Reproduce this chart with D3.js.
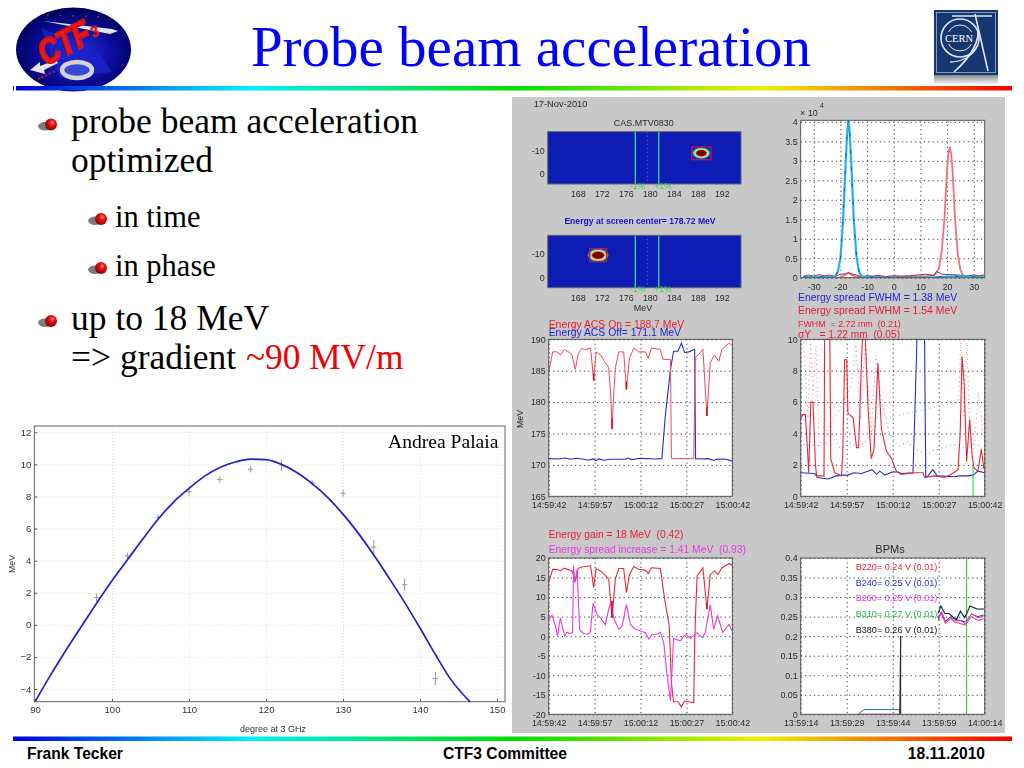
<!DOCTYPE html>
<html><head><meta charset="utf-8">
<script src="https://cdn.jsdelivr.net/npm/d3@7/dist/d3.min.js"></script>
<style>
html,body{margin:0;padding:0;background:#fff;overflow:hidden}
svg{display:block}
text{white-space:pre}
.sans{font-family:"Liberation Sans",Arial,sans-serif}
.serif{font-family:"Liberation Serif","Times New Roman",serif}
.tick text{font-family:"Liberation Sans",Arial,sans-serif}
</style></head><body><svg id="s" width="1024" height="768"></svg>
<script>
// ---------- phase scan (bottom left)
const scanPoints=[[98,1.7,.26],[102,4.3,.2],[106,6.7,.2],[110,8.3,.24],[114,9.05,.2],[118,9.7,.2],[122,9.95,.35],[126,8.85,.2],[130,8.2,.22],[134,4.85,.42],[138,2.5,.38],[142,-3.35,.4]];
const scanFit=[[90,-4.8],[92,-3.15],[94,-1.6],[96,-.12],[98,1.35],[100,2.75],[102,4.05],[104,5.35],[106,6.6],[108,7.65],[110,8.5],[112,9.25],[114,9.8],[116,10.15],[118,10.33],[120,10.3],[122,10],[124,9.5],[126,8.8],[128,7.95],[130,6.9],[132,5.7],[134,4.35],[136,2.9],[138,1.4],[140,-.2],[142,-1.85],[144,-3.4],[146.5,-4.8]];
const scanXTicks=[90,100,110,120,130,140,150];
const scanYTicks=[-4,-2,0,2,4,6,8,10,12];
// ---------- screens
const mevTicks=[168,172,176,180,184,188,192];
const screenYTicks=[-10,0];
const spotRings=[{rx:1.5,ry:2.45,c:"#1c8ae8"},{rx:1.35,ry:2.15,c:"#35e0c8"},{rx:1.18,ry:1.85,c:"#ecec70"},{rx:1.0,ry:1.55,c:"#f09020"},{rx:.86,ry:1.3,c:"#7a0606"}];
const spotA={e:188.6,y:-8.8,box:[187,190.2,-11.4,-6],scale:1};
const spotB={e:171.4,y:-9.4,box:[170,172.8,-12.2,-6.7],scale:1.15};
const markerEnergies=[177.6,181.5];
const markerLabels=[178,182.2];
const centerEnergy=179.6;
// ---------- energy spread profile
const profXTicks=[-30,-20,-10,0,10,20,30];
const profYTicks=[0,.5,1,1.5,2,2.5,3,3.5,4];
const profYLabels=["0","0.5","1","1.5","2","2.5","3","3.5","4"];
const profCyan=[[-34,.02],[-25,.02],[-22,.03],[-21,.15],[-20,.5],[-19,1.5],[-18,3],[-17.5,3.7],[-17,4.06],[-16.5,3.7],[-16,3],[-15,1.5],[-14,.55],[-13,.15],[-12,.03],[-5,.01],[5,.0],[15,.01],[20,.03],[25,.04],[34,.01]];
const profRed=[[-34,.0],[-20,.01],[-18,.08],[-17,.12],[-16,.08],[-14,.02],[0,.02],[12,.04],[15,.06],[16,.12],[17,.25],[18,.7],[19,1.5],[20,2.8],[20.5,3.2],[21,3.35],[21.5,3.2],[22,2.8],[23,1.5],[24,.6],[25,.2],[26,.05],[34,.02]];
const profNoise=[[-34,.03],[-32,.07],[-30,.04],[-28,.08],[-26,.05],[-24,.07],[-22,.03],[-20,.09],[-18,.1],[-17,.14],[-16,.1],[-14,.07],[-12,.02],[-10,.05],[-8,.04],[-6,.06],[-3,.03],[0,.05],[3,.04],[6,.05],[9,.07],[12,.09],[15,.06],[16,.16],[18,.09],[21,.08],[24,.07],[26,.06],[28,.04],[30,.07],[32,.05],[34,.07]];
// ---------- time traces
const timeTicks=[0,15,30,45,60];
const timeLabels=["14:59:42","14:59:57","15:00:12","15:00:27","15:00:42"];
const bpmTimeLabels=["13:59:14","13:59:29","13:59:44","13:59:59","14:00:14"];
const acsOn=[[0,184.7],[.5,186],[1.3,188],[2.7,188],[3.8,187.5],[5.1,188.4],[6.5,188],[7.6,187.6],[8.7,185.2],[9.6,187.6],[10.7,188.5],[12.2,188.4],[13.7,188.6],[14.7,183.4],[15.5,188],[16.9,187.5],[18.5,186.3],[19.6,185.5],[20.3,181],[20.7,175.7],[21.2,181],[21.8,185.5],[22.9,188],[24.5,188],[25.4,182],[26.4,187],[27.8,188.6],[29.4,188],[31.6,188],[32.5,187],[33.6,188.6],[36.5,188.4],[37.3,186.8],[39.8,186.8],[40.1,171],[47.4,171],[47.9,187],[50.4,188.4],[51.7,177.8],[52.8,186.3],[54.2,187.5],[55.6,186.5],[56.6,188.4],[59,189.4],[60,189]];
const acsOnTips=[[[14.7,183.4],[14.7,184.6]],[[20.7,175.7],[20.7,177.4]],[[25.4,182],[25.4,183.3]],[[51.7,177.8],[51.7,179.2]]];
const acsOff=[[0,171],[3,170.95],[5.5,171.1],[7,170.9],[9,171.05],[12,170.85],[13,170.75],[14.5,170.95],[15.5,170.7],[16.5,170.95],[18,170.75],[20,170.9],[25,170.9],[26,171.1],[27,170.85],[30,171.05],[35,170.95],[37,171],[38.1,177.8],[39.8,185.2],[40.8,188.1],[42.2,188.1],[43.4,189.4],[44.4,187.9],[45.8,188],[47.7,188.4],[48,171],[50,170.95],[52,171],[54,170.7],[55,170.95],[58,170.9],[60,170.6]];
const gain=[[0,13.7],[.5,15],[1.3,17.1],[2.7,17.1],[3.8,16.7],[5.1,17.4],[7.6,16.7],[8.2,15.4],[8.7,14],[9.6,17.3],[10.7,17.7],[13.7,18],[14.7,12.4],[15.5,17.3],[16.9,16.7],[19.6,14.7],[20.7,4.7],[21.8,14.7],[22.9,17.3],[24.5,17.3],[25.4,11.1],[26.4,15.8],[27.8,17.8],[29.4,17.1],[31.6,16.9],[32.5,16],[33.6,17.5],[36.5,17.3],[37.9,9.4],[39.4,2.6],[40.1,-11.9],[40.8,-16.8],[42.2,-16.8],[43.4,-18.1],[44.4,-16.6],[45.8,-16.8],[47.4,-17],[47.7,-1.7],[48.1,7.7],[48.5,15.4],[50.4,17.5],[51.7,6.9],[52.8,15.8],[54.2,16.7],[55.3,15.8],[56.6,17.5],[59,18.6],[60,18.1]];
const gainTips=[[[20.7,4.7],[20.7,9]],[[51.7,6.9],[51.7,8.4]]];
const spreadInc=[[0,4.3],[1.1,5.3],[2.2,2.6],[2.9,0],[3.8,4.7],[5.2,0],[6,1],[6.8,.7],[7.8,.9],[8.1,18],[8.5,13.7],[9.3,17],[10.1,1.6],[11.4,.7],[12.5,.5],[13.6,.9],[14.5,8.4],[15.8,5.6],[16.9,4.7],[18.5,2.9],[19.6,6.9],[20.5,9],[21.2,4.7],[22.9,1.7],[24,2.6],[25.4,8.1],[26.7,3],[28.1,1.9],[30,1.3],[31.6,.9],[32.7,-.8],[33.8,.5],[35.4,.5],[36.5,1],[37.6,-1.7],[38.7,-10.2],[39.8,-16.6],[40.8,-.6],[43,-1.2],[44.7,.5],[46.3,-.6],[48.5,.9],[50.3,-.4],[51.2,1],[52.8,8.1],[53.9,1.7],[55.2,5.2],[56.9,.9],[58.9,3],[60,1.3]];
const fwhmRed=[[0,5],[.8,5.2],[1.5,5.2],[2.2,3],[2.6,1.5],[3.3,6],[4,6],[4.8,2],[5.2,1.3],[7.6,1.3],[7.8,10],[9.5,10],[9.8,2.4],[11.1,1.5],[13.3,1.3],[13.7,2.6],[14.3,8.7],[15,8.7],[15.4,5.3],[17.1,5],[18.2,3.1],[18.9,3.1],[19.6,7.3],[20.1,10],[21.1,10],[22,5.5],[23,2.4],[23.9,3],[25.2,8.5],[26.3,4.3],[27.9,2.9],[29.6,2.4],[31.2,1.6],[32.8,1.4],[37.2,1.5],[39.9,1.5],[40.4,1.2],[43.7,1.3],[47,1.2],[49.1,1.4],[51.3,1.7],[52,4],[52.6,8.9],[53.3,7.2],[54.1,2.2],[55.1,4.9],[55.9,2.6],[56.5,1.8],[57.8,1.6],[58.9,3],[59.7,1.8],[60,1.7]];
const fwhmBlue=[[0,1.5],[4.6,1.45],[5.4,1.2],[8.9,1.1],[11.6,1.3],[13.8,1.35],[15.4,1.35],[17.4,1.5],[19.8,1.45],[23.3,1.7],[24.7,1.4],[25.8,1.6],[27.4,1.35],[29.8,1.55],[31.7,1.55],[32.8,1.45],[36.6,1.5],[37.2,5.1],[37.9,10],[40.4,10],[40.6,5],[40.8,1.2],[41.5,1.3],[43.1,1.7],[44.5,1.3],[50.3,1.25],[51.5,1.3],[54.6,1.3],[56.2,1.35],[57.8,1.6],[60,1.5]];
const fwhmRedDots=[[1,9.8],[2.4,5],[3.2,9.8],[4,6.5],[5,9.6],[6,3.2],[16.5,7],[18,9.8],[19.5,5],[21,9.6],[23,4],[24.5,9],[26,6.5],[28,5],[51.5,6],[52.2,9.8],[53.2,5],[54.2,9.8],[55.2,4],[56.5,3],[58,6.6],[59.5,4]];
const fwhmBlueDots=[[1,3.3],[6,3.2],[11,3.6],[13,3],[16,3.4],[18,3.2],[21,3.4],[24,4.5],[26.5,5.8],[29,4],[32,3.2],[35,3.5],[37,3],[41.5,2.7],[43,2.9],[45,3],[48,3.2],[51,3.3],[54,3],[57,3.4],[59,3.1]];
const fwhmGreen=[[56.2,0],[56.2,1.9]];
const voltTicks=[0,.05,.1,.15,.2,.25,.3,.35,.4];
const voltLabels=["0","0.05","0.1","0.15","0.2","0.25","0.3","0.35","0.4"];
const bpmTeal=[[18.7,0],[20.6,.012],[32.3,.012],[32.4,0]];
const bpmMagentaBase=[[18.7,0],[32.4,0]];
const bpmBlack=[[32.3,0],[32.4,.08],[32.6,.2],[32.6,0]];
const bpmBlackEnd=[[44.8,.258],[45.7,.277],[47,.258],[48.4,.258],[49.9,.247],[50.8,.243],[52.1,.264],[53.5,.247],[55.2,.277],[57.4,.27],[59.7,.269]];
const bpmMagenta=[[44.8,.239],[45.9,.264],[47.2,.235],[48.9,.247],[50.2,.239],[52.2,.239],[53.7,.232],[55.7,.258],[57.8,.247],[59.7,.252]];
const bpmRed=[[44.8,.243],[45.9,.258],[47.2,.232],[48.9,.244],[50.2,.236],[52.2,.232],[53.7,.228],[55.7,.25],[57.8,.24],[59.7,.244]];
const bpmBlue=[[44.8,.246],[45.9,.262],[47.2,.238],[48.9,.25],[50.2,.242],[52.2,.24],[53.7,.236],[55.7,.256],[57.8,.25],[59.7,.254]];
const bpmMarker=54.1;
const bpmLabels=[["B220= 0.24 V (0.01)","#e8243c"],["B240= 0.25 V (0.01)","#2b2bd8"],["B260= 0.25 V (0.01)","#e838e0"],["B310= 0.27 V (0.01)","#1cb83c"],["B380= 0.26 V (0.01)","#111"]];

const svg=d3.select("#s");
const defs=svg.append("defs");
const rb=defs.append("linearGradient").attr("id","rb");
[[0,"#0000d8"],[.235,"#00f0ff"],[.5,"#00dc00"],[.75,"#f0f000"],[1,"#f00000"]].forEach(d=>rb.append("stop").attr("offset",d[0]).attr("stop-color",d[1]));
const sph=defs.append("radialGradient").attr("id","sph").attr("cx",.6).attr("cy",.35).attr("r",.65);
[[0,"#ff9a8a"],[.35,"#f01010"],[1,"#8a0000"]].forEach(d=>sph.append("stop").attr("offset",d[0]).attr("stop-color",d[1]));
const lg=defs.append("radialGradient").attr("id","lg").attr("cx",.52).attr("cy",.55).attr("r",.55);
[[0,"#2a34e0"],[.6,"#0a0c9a"],[1,"#00005c"]].forEach(d=>lg.append("stop").attr("offset",d[0]).attr("stop-color",d[1]));
defs.append("filter").attr("id","soft").append("feGaussianBlur").attr("stdDeviation",.32);
const fd=defs.append("linearGradient").attr("id","fade").attr("x2",0).attr("y2",1);
[[0,"#8a8a8a"],[1,"#ffffff"]].forEach(d=>fd.append("stop").attr("offset",d[0]).attr("stop-color",d[1]));

function text(p,x,y,s,o={}){
  const t=p.append("text").attr("x",x).attr("y",y).text(s)
   .attr("class",o.cls||"sans").attr("font-size",o.size||9).attr("fill",o.fill||"#222");
  if(o.anchor)t.attr("text-anchor",o.anchor);
  if(o.weight)t.attr("font-weight",o.weight);
  if(o.rot)t.attr("transform",`rotate(${o.rot} ${x} ${y})`);
  return t;
}
// CTF3 logo
const lo=svg.append("g");
lo.append("ellipse").attr("cx",73.5).attr("cy",49.5).attr("rx",57.5).attr("ry",42).attr("fill","url(#lg)");
lo.append("path").attr("d","M41 28 L98 52 L112 72 L60 78 Z").attr("fill","#1a22c8").attr("opacity",.8);
lo.append("path").attr("d","M43 21 L112 29 L118 31 L110 34 Z").attr("fill","#e4e4ec");
lo.append("path").attr("d","M30 70 L40 62 L40 66 L56 60 L58 63 L44 70 L45 74 Z").attr("fill","#e6e6e6");
lo.append("ellipse").attr("cx",77).attr("cy",70).attr("rx",15).attr("ry",8).attr("fill","#3a48d8").attr("stroke","#d4d4d8").attr("stroke-width",4.5);
lo.append("path").attr("d","M47 15 L106 17").attr("stroke","#d02020").attr("stroke-width",1.6).attr("stroke-dasharray","1.6 11");
lo.append("path").attr("d","M38 79 L55 71").attr("stroke","#e02020").attr("stroke-width",1.6).attr("stroke-dasharray","2 2");
lo.append("text").attr("transform","translate(45 66) rotate(-27) scale(1,1.25)").attr("class","sans").attr("font-size",28).attr("font-weight","bold").attr("font-style","italic").attr("fill","#ee1c1c").attr("stroke","#d81010").attr("stroke-width",1.8).text("CTF");
lo.append("text").attr("transform","translate(93 38) rotate(-27)").attr("class","sans").attr("font-size",15).attr("font-weight","bold").attr("font-style","italic").attr("fill","#ee1c1c").attr("stroke","#d81010").attr("stroke-width",.6).text("3");
// CERN logo
const ce=svg.append("g");
ce.append("rect").attr("x",934).attr("y",10).attr("width",64).attr("height",65).attr("fill","#15366f");
ce.append("rect").attr("x",936.5).attr("y",12.5).attr("width",59).attr("height",60).attr("fill","none").attr("stroke","#7f9cc4").attr("stroke-width",1);
ce.append("rect").attr("x",934).attr("y",75).attr("width",64).attr("height",10).attr("fill","url(#fade)");
ce.append("circle").attr("cx",960).attr("cy",38).attr("r",19).attr("fill","none").attr("stroke","#dfe6f2").attr("stroke-width",1.6);
ce.append("circle").attr("cx",960).attr("cy",38).attr("r",13).attr("fill","#15366f").attr("stroke","#dfe6f2").attr("stroke-width",1);
ce.append("path").attr("d","M954 72 C972 56 980 40 978 26 M952 16 L992 16 M975 14 L988 71").attr("fill","none").attr("stroke","#dfe6f2").attr("stroke-width",1.6);
ce.append("path").attr("d","M950 62 C962 62 972 56 976 48").attr("fill","none").attr("stroke","#dfe6f2").attr("stroke-width",1.4);
ce.append("rect").attr("x",943).attr("y",32).attr("width",32).attr("height",12).attr("fill","#15366f");
text(ce,959,42,"CERN",{cls:"serif",size:10.5,fill:"#fff",anchor:"middle"});

text(svg,531,66,"Probe beam acceleration",{cls:"serif",size:57,fill:"#0000ff",anchor:"middle"});
svg.append("rect").attr("x",16).attr("y",86).attr("width",996).attr("height",4.5).attr("fill","url(#rb)");
svg.append("rect").attr("x",13).attr("y",736.5).attr("width",999).attr("height",4.5).attr("fill","url(#rb)");
svg.append("rect").attr("x",13).attr("y",86).attr("width",1).attr("height",4.5).attr("fill","#00a");

function bullet(x,y,r){
  svg.append("ellipse").attr("cx",x-r*1.0).attr("cy",y+r*.3).attr("rx",r*1.15).attr("ry",r*.7).attr("fill","#7c7c7c");
  svg.append("circle").attr("cx",x).attr("cy",y).attr("r",r).attr("fill","url(#sph)");
}
bullet(51,124.5,6);bullet(101,219,6);bullet(101,268,6);bullet(51,321,6);
const bodyLines=[["probe beam acceleration",71,133,35.5],["optimized",71,172,35.5],["in time",115,227,30.5],["in phase",115,276,30.5],["up to 18 MeV",71,329.5,35.5]];
bodyLines.forEach(b=>text(svg,b[1],b[2],b[0],{cls:"serif",size:b[3],fill:"#000"}));
text(svg,71,368.5,"=> gradient",{cls:"serif",size:35.5,fill:"#000"});
text(svg,246,368.5,"~90 MV/m",{cls:"serif",size:35.3,fill:"#f00000"});

text(svg,27,759,"Frank Tecker",{size:15.6,weight:"bold",fill:"#000"});
text(svg,505,759,"CTF3 Committee",{size:15.6,weight:"bold",fill:"#000",anchor:"middle"});
text(svg,985,759,"18.11.2010",{size:15.6,weight:"bold",fill:"#000",anchor:"end"});

// ---------- phase scan
(function(){
  const L=34.3,R=505,T=426,B=701.7;
  const x=d3.scaleLinear().domain([90,151]).range([35,504.7]);
  const y=d3.scaleLinear().domain([12,-4]).range([432.3,689]);
  const g=svg.append("g").attr("filter","url(#soft)");
  const gx=g.append("g").attr("transform",`translate(0,${T})`).call(d3.axisTop(x).tickValues(scanXTicks).tickSize(-(B-T)).tickFormat(""));
  gx.selectAll("line").attr("stroke","#ddd").attr("stroke-dasharray","1 2");gx.select(".domain").remove();
  const gy=g.append("g").attr("transform",`translate(${L},0)`).call(d3.axisLeft(y).tickValues(scanYTicks).tickSize(-(R-L)).tickFormat(""));
  gy.selectAll("line").attr("stroke","#ddd").attr("stroke-dasharray","1 2");gy.select(".domain").remove();
  const ax=g.append("g").attr("transform",`translate(0,${B})`).call(d3.axisBottom(x).tickValues(scanXTicks).tickSize(-3).tickPadding(6));
  ax.selectAll("text").attr("font-size",9.5).attr("fill","#333").attr("y",5);ax.selectAll("line").attr("stroke","#555");ax.select(".domain").remove();
  const ay=g.append("g").attr("transform",`translate(${L},0)`).call(d3.axisLeft(y).tickValues(scanYTicks).tickSize(-3).tickPadding(3).tickFormat(d=>d<0?"\u2212"+(-d):d));
  ay.selectAll("text").attr("font-size",9.5).attr("fill","#333");ay.selectAll("line").attr("stroke","#555");ay.select(".domain").remove();
  g.append("rect").attr("x",L).attr("y",T).attr("width",R-L).attr("height",B-T).attr("fill","none").attr("stroke","#666").attr("stroke-width",1);
  const pts=g.selectAll(".p").data(scanPoints).enter().append("g").attr("stroke","#999").attr("stroke-width",1);
  pts.append("line").attr("x1",d=>x(d[0])).attr("x2",d=>x(d[0])).attr("y1",d=>y(d[1]-d[2])).attr("y2",d=>y(d[1]+d[2]));
  pts.append("line").attr("x1",d=>x(d[0])-2.7).attr("x2",d=>x(d[0])+2.7).attr("y1",d=>y(d[1])).attr("y2",d=>y(d[1]));
  g.append("path").datum(scanFit).attr("fill","none").attr("stroke","#2020c8").attr("stroke-width",1.7)
    .attr("d",d3.line().x(d=>x(d[0])).y(d=>y(d[1])).curve(d3.curveMonotoneX));
  text(g,273,732,"degree at 3 GHz",{size:9,fill:"#333",anchor:"middle"});
  text(g,15,564,"MeV",{size:8.8,fill:"#333",anchor:"middle",rot:-90});
  text(svg,388,448,"Andrea Palaia",{cls:"serif",size:19.6,fill:"#000"});
})();

// ---------- grey panel with six plots
svg.append("rect").attr("x",512).attr("y",97).attr("width",493).attr("height",636).attr("fill","#c8c8c8");
const P=svg.append("g").attr("filter","url(#soft)");
let cid=0;
function plot(o){
  const g=P.append("g");
  const {L,R,T,B}=o;
  const x=d3.scaleLinear().domain(o.xd).range([L,R]);
  const y=d3.scaleLinear().domain(o.yd).range([T,B]);
  g.append("rect").attr("x",L).attr("y",T).attr("width",R-L).attr("height",B-T).attr("fill",o.bg||"#fff");
  if(o.grid!==false){
    const gx=g.append("g").attr("transform",`translate(0,${T})`).call(d3.axisTop(x).tickValues(o.xt).tickSize(-(B-T)).tickFormat(""));
    const gy=g.append("g").attr("transform",`translate(${L},0)`).call(d3.axisLeft(y).tickValues(o.yt).tickSize(-(R-L)).tickFormat(""));
    [gx,gy].forEach(a=>{a.select(".domain").remove();a.selectAll("line").attr("stroke","#222").attr("stroke-dasharray","1.2 3.2").attr("stroke-width",.9);});
  }
  const id="c"+(++cid);
  defs.append("clipPath").attr("id",id).append("rect").attr("x",L).attr("y",T).attr("width",R-L).attr("height",B-T);
  const inner=g.append("g").attr("clip-path",`url(#${id})`);
  const ax=g.append("g").attr("transform",`translate(0,${B})`).call(d3.axisBottom(x).tickValues(o.xt).tickSize(0).tickPadding(o.xpad||5).tickFormat((d,i)=>o.xl?o.xl[i]:d));
  ax.select(".domain").remove();ax.selectAll("text").attr("font-size",8.9).attr("fill","#2a2a2a");
  const ay=g.append("g").attr("transform",`translate(${L},0)`).call(d3.axisLeft(y).tickValues(o.yt).tickSize(0).tickPadding(3).tickFormat((d,i)=>o.yl?o.yl[i]:d));
  ay.select(".domain").remove();ay.selectAll("text").attr("font-size",8.9).attr("fill","#2a2a2a");
  const frame=()=>g.append("rect").attr("x",L).attr("y",T).attr("width",R-L).attr("height",B-T).attr("fill","none").attr("stroke",o.frame||"#555").attr("stroke-width",1);
  const line=(data,c,w,dash)=>{const p=inner.append("path").datum(data).attr("fill","none").attr("stroke",c).attr("stroke-width",w)
     .attr("d",d3.line().x(d=>x(d[0])).y(d=>y(d[1])));if(dash)p.attr("stroke-dasharray",dash);return p;};
  return {g,inner,x,y,line,frame};
}
function screen(T,B,spot){
  const p=plot({L:547.7,R:741,T,B,xd:[163,195.2],yd:[-17.8,4.2],xt:mevTicks,yt:screenYTicks,bg:"#0a1bb4",grid:false,frame:"#666",xpad:7});
  spotRings.forEach(r=>p.inner.append("ellipse").attr("cx",p.x(spot.e)).attr("cy",p.y(spot.y)).attr("rx",Math.abs(p.x(r.rx*spot.scale)-p.x(0))).attr("ry",Math.abs(p.y(r.ry*spot.scale)-p.y(0))).attr("fill",r.c));
  p.inner.append("rect").attr("x",p.x(spot.box[0])).attr("y",p.y(spot.box[2])).attr("width",p.x(spot.box[1])-p.x(spot.box[0])).attr("height",p.y(spot.box[3])-p.y(spot.box[2])).attr("fill","none").attr("stroke","#c81838").attr("stroke-width",1.3);
  markerEnergies.forEach(e=>p.inner.append("line").attr("x1",p.x(e)).attr("x2",p.x(e)).attr("y1",T).attr("y2",B).attr("stroke","#38d8a0").attr("stroke-width",1.3));
  p.inner.append("line").attr("x1",p.x(centerEnergy)).attr("x2",p.x(centerEnergy)).attr("y1",T).attr("y2",B).attr("stroke","#7f9ce8").attr("stroke-dasharray","1 3").attr("stroke-width",.8);
  p.frame();
  text(p.g,p.x(markerLabels[0]),B+4.5,"-1%",{size:8.4,fill:"#34d04c",anchor:"middle"});
  text(p.g,p.x(markerLabels[1]),B+4.5,"+1%",{size:8.4,fill:"#34d04c",anchor:"middle"});
}
screen(131.7,184,spotA);
screen(235.3,287.7,spotB);
text(P,533.7,106.5,"17-Nov-2010",{size:9.3,fill:"#2a2a2a"});
text(P,643.7,126,"CAS.MTV0830",{size:9,fill:"#2a2a2a",anchor:"middle"});
text(P,640,224,"Energy at screen center= 178.72 MeV",{size:8.6,weight:"bold",fill:"#1212d8",anchor:"middle"});
text(P,643,311,"MeV",{size:9,fill:"#2a2a2a",anchor:"middle"});

// profiles
{
  const p=plot({L:800.7,R:984.7,T:120.3,B:277.7,xd:[-34.9,34.1],yd:[4.04,0],xt:profXTicks,yt:profYTicks,yl:profYLabels,xpad:6});
  p.line(profCyan,"#f4f4ff",3.4);
  p.line(profRed,"#f07080",1.8);
  p.line(profNoise,"#8a2050",.9);
  p.line(profCyan,"#1ab4e8",2.1);
  p.line(profCyan,"#1a3ac8",.9,"3 14");
  p.frame();
  text(P,800,116,"\u00d7 10",{size:9,fill:"#2a2a2a"});
  text(P,820,108,"4",{size:7,fill:"#2a2a2a"});
  text(P,798,301,"Energy spread FWHM = 1.38 MeV",{size:10.4,fill:"#2424d0"});
  text(P,798,314,"Energy spread FWHM = 1.54 MeV",{size:10.4,fill:"#e01c38"});
}
// ACS
{
  const p=plot({L:548.7,R:732.3,T:339.3,B:496.3,xd:[0,60],yd:[190,165],xt:timeTicks,xl:timeLabels,yt:[165,170,175,180,185,190]});
  p.line(acsOff,"#2a2ad0",1.1);
  p.line(acsOn,"#f04858",1);
  acsOnTips.forEach(t=>p.line(t,"#d81020",1.6));
  p.frame();
  text(P,548.7,328,"Energy ACS On = 188.7 MeV",{size:10.4,fill:"#e82036"});
  text(P,548.7,335.8,"Energy ACS Off= 171.1 MeV",{size:10.4,fill:"#2424d0"});
  text(P,523,419,"MeV",{size:8.8,fill:"#222",anchor:"middle",rot:-90});
}
// FWHM
{
  const p=plot({L:800.7,R:984.7,T:339.3,B:496.3,xd:[0,60],yd:[10,0],xt:timeTicks,xl:timeLabels,yt:[0,2,4,6,8,10]});
  p.line(fwhmRedDots,"#f07080",.9,"1 3.5");
  p.line(fwhmBlueDots,"#8a70c8",.9,"1 3.5");
  p.line(fwhmBlue,"#2a2ad0",1.1);
  p.line(fwhmRed,"#e02838",1.1);
  p.line(fwhmGreen,"#38e038",1.2);
  p.frame();
  text(P,798,327,"FWHM  = 2.72 mm  (0.21)",{size:8.9,fill:"#e82036"});
  text(P,798,338,"\u03c3Y   = 1.22 mm  (0.05)",{size:10.2,fill:"#e82036"});
}
// gain
{
  const p=plot({L:548.7,R:732.3,T:558,B:714.3,xd:[0,60],yd:[20,-20],xt:timeTicks,xl:timeLabels,yt:[-20,-15,-10,-5,0,5,10,15,20]});
  p.line(gain,"#e82838",1.1);
  p.line(spreadInc,"#e838e0",1.1);
  gainTips.forEach(t=>p.line(t,"#d81020",1.6));
  p.frame();
  text(P,548.7,538,"Energy gain = 18 MeV  (0.42)",{size:10.3,fill:"#e82036"});
  text(P,548.7,553,"Energy spread increase = 1.41 MeV  (0.93)",{size:10.3,fill:"#e838e0"});
}
// BPMs
{
  const p=plot({L:800.7,R:984.7,T:558,B:714.3,xd:[0,60],yd:[.4,0],xt:timeTicks,xl:bpmTimeLabels,yt:voltTicks,yl:voltLabels});
  p.inner.append("line").attr("x1",p.x(bpmMarker)).attr("x2",p.x(bpmMarker)).attr("y1",558).attr("y2",714.3).attr("stroke","#30d030").attr("stroke-width",1.1);
  p.line(bpmTeal,"#10806a",1);
  p.line(bpmMagentaBase,"#d020c0",1.2);
  p.line(bpmBlack,"#222",1);
  p.line(bpmRed,"#e83048",1);
  p.line(bpmBlue,"#3030d0",1);
  p.line(bpmMagenta,"#e838e0",1);
  p.line(bpmBlackEnd,"#103838",1.2);
  p.frame();
  bpmLabels.forEach((b,i)=>text(P,855.7,570+i*15.7,b[0],{size:9.1,fill:b[1]}));
  text(P,890,552.5,"BPMs",{size:11,fill:"#2a2a2a",anchor:"middle"});
}
</script></body></html>
